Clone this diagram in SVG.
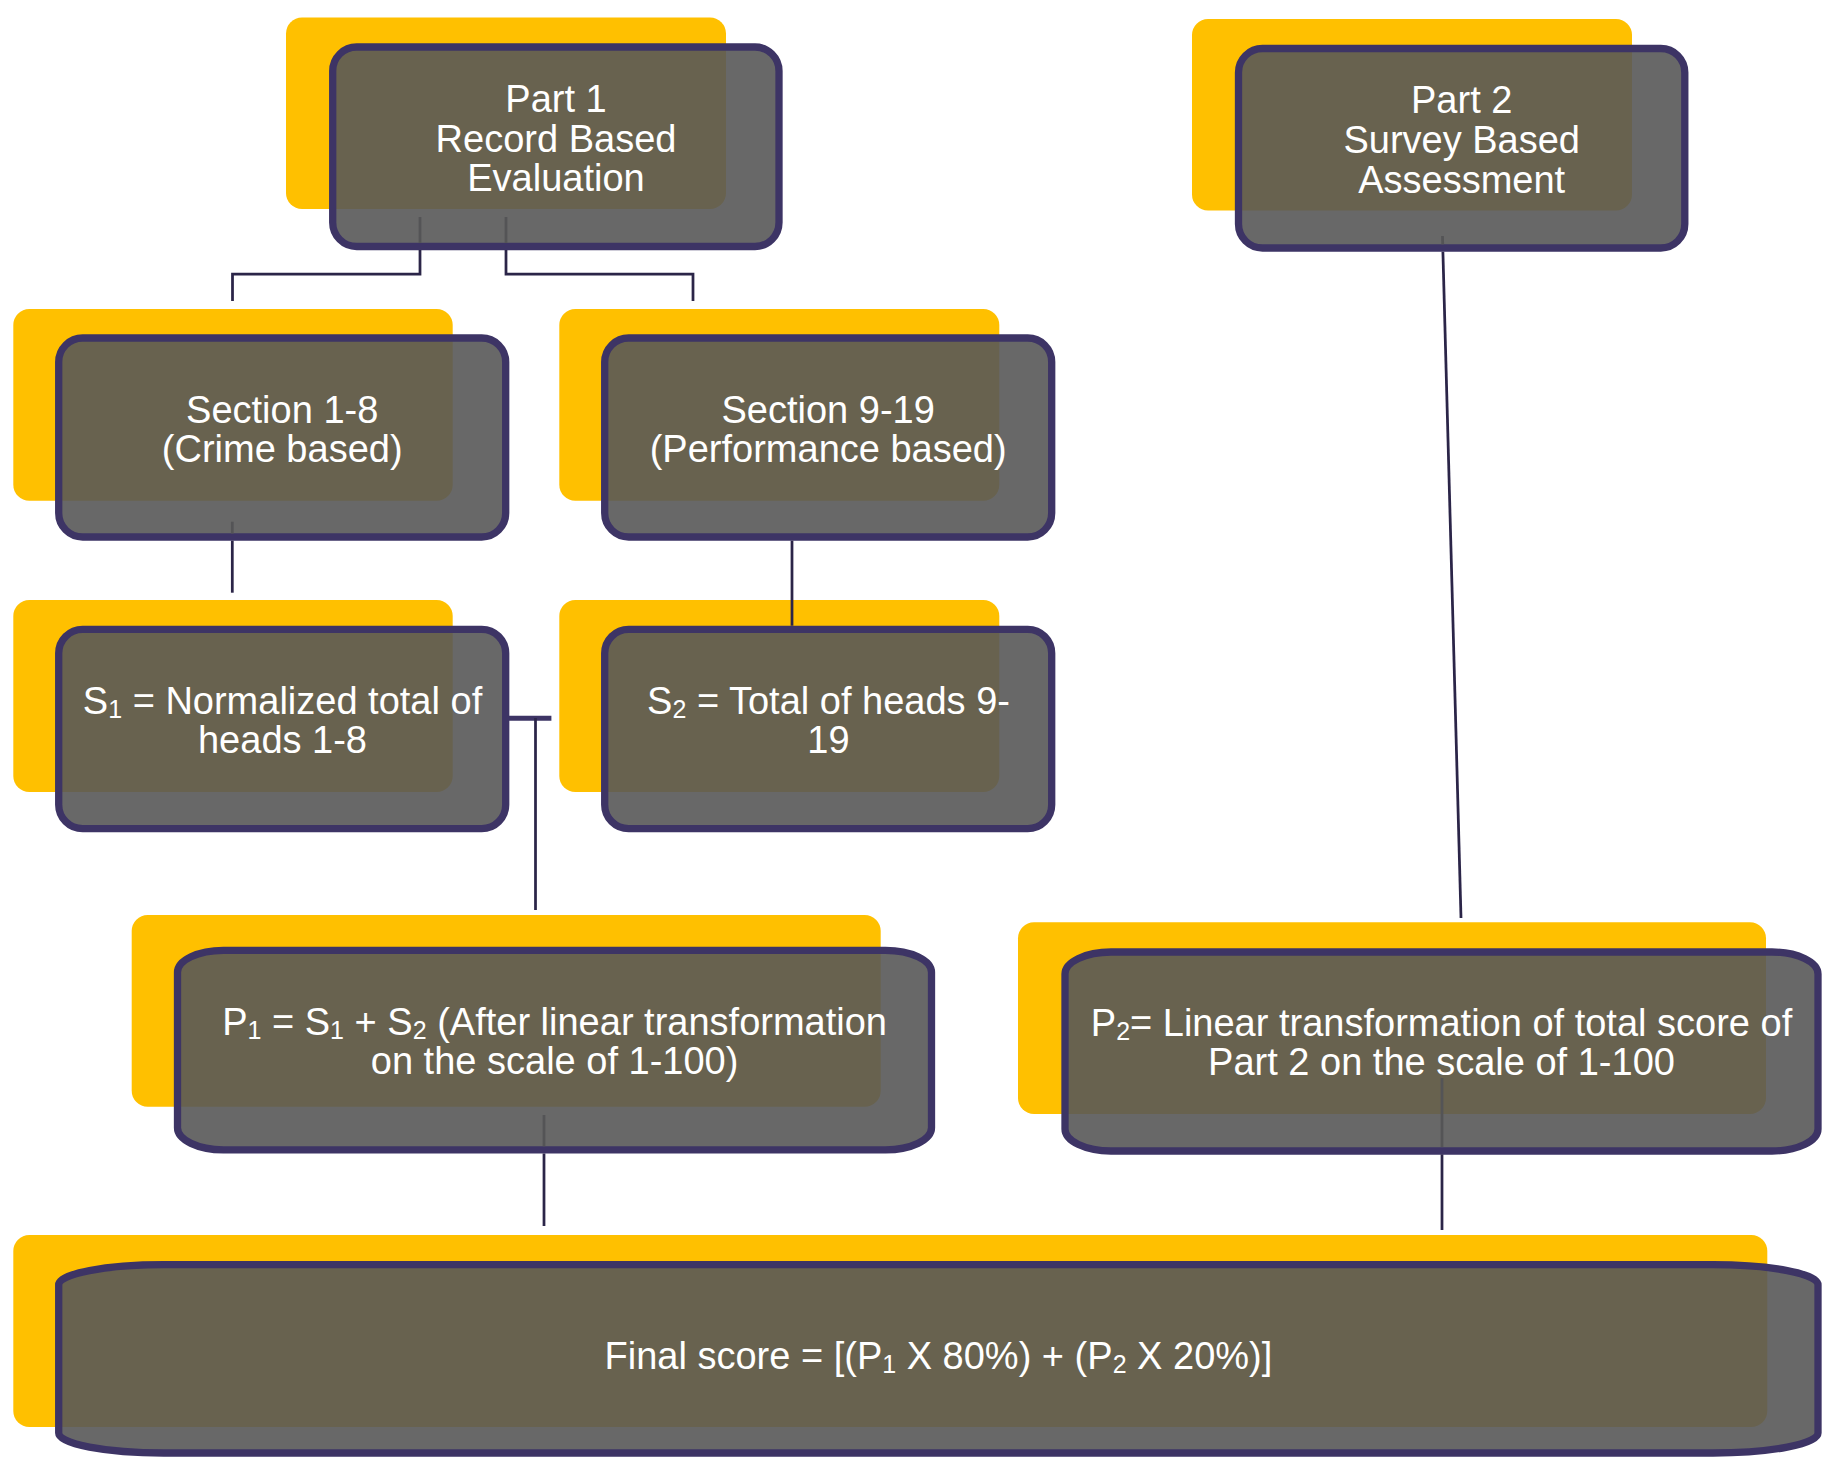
<svg xmlns="http://www.w3.org/2000/svg" width="1824" height="1458" viewBox="0 0 1824 1458">
<style>
.back{fill:#FFC000}
.box{fill:#585858;fill-opacity:0.9;stroke:#3D3465;stroke-width:7.3}
.t{font-family:"Liberation Sans",Arial,sans-serif;font-size:38px;fill:#FFFFFF;text-anchor:middle}
.sub{font-size:25px}
.ln{fill:none;stroke:#2B2548;stroke-width:2.75}
.lnin{fill:none;stroke:#545456;stroke-width:2.75}
.bar{fill:none;stroke:#3D3465;stroke-width:5}
</style>
<rect x="0" y="0" width="1824" height="1458" fill="#FFFFFF"/>

<g id="part1">
<rect class="back" x="286" y="17.5" width="440" height="191.5" rx="16"/>
<rect class="box" x="332.7" y="47" width="446.3" height="199.5" rx="24"/>
<text class="t" x="556" y="111.7">Part 1</text>
<text class="t" x="556" y="151.7">Record Based</text>
<text class="t" x="556" y="191">Evaluation</text>
</g>

<g id="part2">
<rect class="back" x="1192" y="19" width="440" height="191.5" rx="16"/>
<rect class="box" x="1238.5" y="48.5" width="446.3" height="199.5" rx="24"/>
<text class="t" x="1461.7" y="113">Part 2</text>
<text class="t" x="1461.7" y="153">Survey Based</text>
<text class="t" x="1461.7" y="192.5">Assessment</text>
</g>

<g id="section1-8">
<rect class="back" x="13.3" y="309" width="439.4" height="191.7" rx="16"/>
<rect class="box" x="58.7" y="338" width="447" height="199" rx="24"/>
<text class="t" x="282.2" y="422.7">Section 1-8</text>
<text class="t" x="282.2" y="462.3">(Crime based)</text>
</g>

<g id="section9-19">
<rect class="back" x="559.3" y="309" width="440" height="191.7" rx="16"/>
<rect class="box" x="604.7" y="338" width="447" height="199" rx="24"/>
<text class="t" x="828.2" y="422.7">Section 9-19</text>
<text class="t" x="828.2" y="462.3">(Performance based)</text>
</g>

<g id="s1">
<rect class="back" x="13.3" y="600" width="439.4" height="192" rx="16"/>
<rect class="box" x="58.7" y="629.3" width="447" height="199.4" rx="24"/>
<text class="t" x="282.5" y="714.3">S<tspan class="sub" dy="4">1</tspan><tspan dy="-4"> = Normalized total of</tspan></text>
<text class="t" x="282.5" y="753.3">heads 1-8</text>
</g>

<g id="s2">
<rect class="back" x="559.3" y="600" width="440" height="192" rx="16"/>
<rect class="box" x="604.7" y="629.3" width="447" height="199.4" rx="24"/>
<text class="t" x="828.5" y="714.3">S<tspan class="sub" dy="4">2</tspan><tspan dy="-4"> = Total of heads 9-</tspan></text>
<text class="t" x="828.5" y="753.3">19</text>
</g>

<g id="p1">
<rect class="back" x="131.7" y="915" width="749" height="191.7" rx="16"/>
<rect class="box" x="177.5" y="950.3" width="754" height="199.5" rx="46" ry="22"/>
<text class="t" x="554.6" y="1035">P<tspan class="sub" dy="4">1</tspan><tspan dy="-4"> = S</tspan><tspan class="sub" dy="4">1</tspan><tspan dy="-4"> + S</tspan><tspan class="sub" dy="4">2</tspan><tspan dy="-4"> (After linear transformation</tspan></text>
<text class="t" x="554.6" y="1074">on the scale of 1-100)</text>
</g>

<g id="p2">
<rect class="back" x="1018" y="922.3" width="748" height="191.7" rx="16"/>
<rect class="box" x="1065" y="952" width="753" height="199" rx="46" ry="22"/>
<text class="t" x="1441.5" y="1036">P<tspan class="sub" dy="4">2</tspan><tspan dy="-4">= Linear transformation of total score of</tspan></text>
<text class="t" x="1441.5" y="1075">Part 2 on the scale of 1-100</text>
</g>

<g id="final">
<rect class="back" x="13.3" y="1235" width="1754" height="192" rx="16"/>
<rect class="box" x="58.7" y="1264.7" width="1759.3" height="188.3" rx="105" ry="20"/>
<text class="t" x="938.4" y="1369.3">Final score = [(P<tspan class="sub" dy="4">1</tspan><tspan dy="-4"> X 80%) + (P</tspan><tspan class="sub" dy="4">2</tspan><tspan dy="-4"> X 20%)]</tspan></text>
</g>

<g id="connectors">
<path class="lnin" d="M420,217 V243"/>
<path class="ln" d="M420,250 V274 H232.5 V301"/>
<path class="lnin" d="M506,217 V243"/>
<path class="ln" d="M506,250 V274 H693 V301"/>
<path class="lnin" d="M232.3,521.7 V533.5"/>
<path class="ln" d="M232.3,540.7 V592.7"/>
<path class="ln" d="M792,540.7 V625.7"/>
<path class="bar" d="M507,718.3 H551.4"/>
<path class="ln" d="M535.5,718 V910"/>
<path class="lnin" d="M544,1115 V1146.3"/>
<path class="ln" d="M544,1153.5 V1226"/>
<path class="lnin" d="M1442.5,236 L1442.7,244.4"/>
<path class="ln" d="M1442.9,251.7 L1461,918"/>
<path class="lnin" d="M1442,1078 V1147"/>
<path class="ln" d="M1442,1154.4 V1230"/>
</g>
</svg>
